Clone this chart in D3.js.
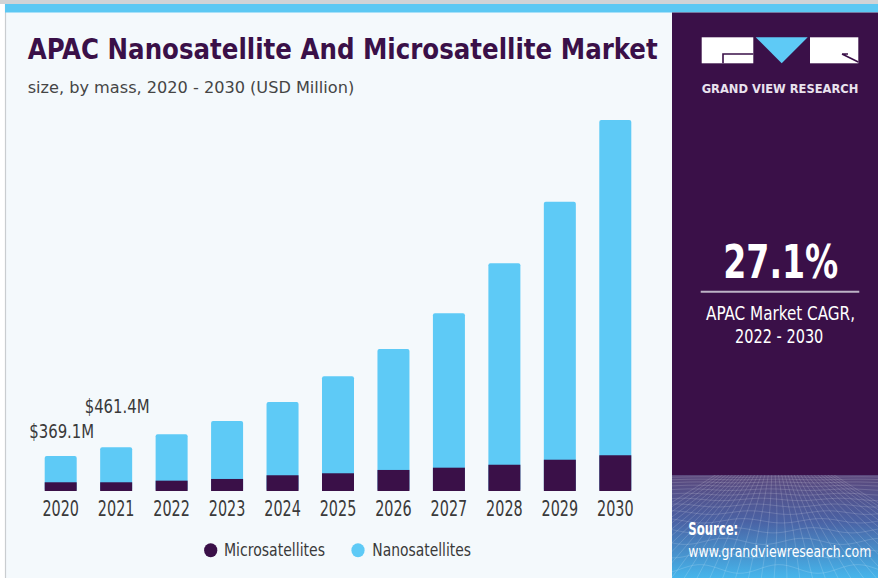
<!DOCTYPE html>
<html><head><meta charset="utf-8">
<script src="https://cdn.jsdelivr.net/npm/d3@7"></script>
<style>body{margin:0;background:#fff}svg{display:block}</style>
</head><body>
<svg id="chart" width="878" height="578"></svg>
<script>
// ---- data ----
const years = ["2020","2021","2022","2023","2024","2025","2026","2027","2028","2029","2030"];
const microsatellites = [92, 92, 109, 127, 166, 187, 222, 246, 277, 330, 377];
const nanosatellites  = [277.1, 369.4, 489, 612, 773, 1023, 1276, 1629, 2125, 2722, 3537];
const seriesNames = ["Microsatellites", "Nanosatellites"];
const labeledYears = ["2020", "2021"];
const titleText = "APAC Nanosatellite And Microsatellite Market";
const subtitleText = "size, by mass, 2020 - 2030 (USD Million)";
const cagrValue = "27.1%";
const cagrLines = ["APAC Market CAGR,", "2022 - 2030"];

// ---- style ----
const PURPLE = "#3a1048";
const CYAN = "#5ecaf6";
const TEXT = "#3a3a3a";
const NARROW = "'Liberation Sans Narrow','Arial Narrow','DejaVu Sans Condensed',sans-serif";

const svg = d3.select("#chart");

// backgrounds
svg.append("rect").attr("x",0).attr("y",0).attr("width",878).attr("height",578).attr("fill","#ffffff");
svg.append("rect").attr("x",6).attr("y",4).attr("width",666).attr("height",574).attr("fill","#f4f9fc");
svg.append("line").attr("x1",5.5).attr("x2",5.5).attr("y1",4).attr("y2",578).attr("stroke","#c9cdd0").attr("stroke-width",1.2);
svg.append("rect").attr("x",0).attr("y",0).attr("width",878).attr("height",4).attr("fill","#d0d3d6");
svg.append("rect").attr("x",5).attr("y",4).attr("width",873).attr("height",8.5).attr("fill","#5cc8f3");

// right panel
svg.append("rect").attr("x",672).attr("y",12.5).attr("width",206).attr("height",566).attr("fill",PURPLE);

const defs = svg.append("defs");
const grad = defs.append("linearGradient").attr("id","meshGrad").attr("x1",0).attr("y1",0).attr("x2",0).attr("y2",1);
grad.append("stop").attr("offset","0%").attr("stop-color","#5a477b");
grad.append("stop").attr("offset","45%").attr("stop-color","#4a62a4");
grad.append("stop").attr("offset","100%").attr("stop-color","#46b6ec");
svg.append("rect").attr("x",672).attr("y",475).attr("width",206).attr("height",103).attr("fill","url(#meshGrad)");
defs.append("clipPath").attr("id","meshClip").append("rect").attr("x",672).attr("y",475).attr("width",206).attr("height",103);
const mesh = svg.append("g").attr("clip-path","url(#meshClip)")
  .attr("stroke","#ffffff").attr("stroke-opacity",0.22).attr("stroke-width",0.7).attr("fill","none");
// perspective-like grid (decorative)
let gy = 477, gstep = 2.5;
while (gy < 580) {
  const yy = gy;
  mesh.append("path").attr("d", d3.line().curve(d3.curveBasis)(
    d3.range(668, 890, 10).map((x,i) => [x, yy + Math.sin(i*0.8 + yy*0.07) * (yy-472)*0.05])));
  gy += gstep; gstep *= 1.16;
}
for (let bx = 540; bx <= 1010; bx += 13) {
  mesh.append("path").attr("d", d3.line().curve(d3.curveBasis)(
    [[775 + (bx-775)*0.22, 470],[775 + (bx-775)*0.55 + Math.sin(bx)*4, 520],[bx, 580]]));
}

// logo
const logo = svg.append("g");
logo.append("rect").attr("x",701.7).attr("y",37.3).attr("width",51.6).attr("height",26).attr("fill","#ffffff");
logo.append("path").attr("d","M723,63.3 V54 H753.3").attr("stroke",PURPLE).attr("stroke-width",1.6).attr("fill","none");
logo.append("path").attr("d","M755.7,37.3 L807.7,37.3 L781.7,63.3 Z").attr("fill",CYAN);
logo.append("rect").attr("x",810).attr("y",37.3).attr("width",48.3).attr("height",26).attr("fill","#ffffff");
logo.append("path").attr("d","M842,54 H848 M842,54 L858.3,62").attr("stroke",PURPLE).attr("stroke-width",1.6).attr("fill","none");
svg.append("text").attr("x",701.7).attr("y",93.3).attr("font-family","'DejaVu Sans Condensed','DejaVu Sans',sans-serif").attr("font-weight","bold")
  .attr("font-size",12).attr("fill","#e9e2ee").attr("textLength",156.6).attr("lengthAdjust","spacingAndGlyphs")
  .text("GRAND VIEW RESEARCH");

// CAGR
svg.append("text").attr("x",780.8).attr("y",278.3).attr("text-anchor","middle").attr("font-family",NARROW)
  .attr("font-weight","bold").attr("font-size",46).attr("fill","#ffffff")
  .attr("textLength",115).attr("lengthAdjust","spacingAndGlyphs").text(cagrValue);
svg.append("line").attr("x1",700.7).attr("x2",859.3).attr("y1",291.7).attr("y2",291.7).attr("stroke","#bdb3c6").attr("stroke-width",2);
svg.append("text").attr("x",780.5).attr("y",320).attr("text-anchor","middle").attr("font-family",NARROW)
  .attr("font-size",19).attr("fill","#ffffff").attr("textLength",149).attr("lengthAdjust","spacingAndGlyphs").text(cagrLines[0]);
svg.append("text").attr("x",779.2).attr("y",343.3).attr("text-anchor","middle").attr("font-family",NARROW)
  .attr("font-size",19).attr("fill","#ffffff").attr("textLength",88.3).attr("lengthAdjust","spacingAndGlyphs").text(cagrLines[1]);

// source
svg.append("text").attr("x",688.3).attr("y",535).attr("font-family",NARROW).attr("font-weight","bold")
  .attr("font-size",17).attr("fill","#ffffff").attr("textLength",50).attr("lengthAdjust","spacingAndGlyphs").text("Source:");
svg.append("text").attr("transform","translate(688.3,557.3) scale(1,1.2)").attr("font-family",NARROW)
  .attr("font-size",13.2).attr("fill","#ffffff").attr("textLength",183).attr("lengthAdjust","spacingAndGlyphs").text("www.grandviewresearch.com");

// titles
svg.append("text").attr("x",27.7).attr("y",59.3).attr("font-family",NARROW).attr("font-weight","bold")
  .attr("font-size",29).attr("fill",PURPLE).attr("textLength",630).attr("lengthAdjust","spacingAndGlyphs").text(titleText);
svg.append("text").attr("x",27.7).attr("y",93).attr("font-family",NARROW)
  .attr("font-size",16).attr("fill","#454545").attr("textLength",326.5).attr("lengthAdjust","spacingAndGlyphs").text(subtitleText);

// ---- scales ----
const x = d3.scaleBand().domain(years).range([44.7, 631.3]).paddingInner(0.423).paddingOuter(0);
const y = d3.scaleLinear().domain([0, 4000]).range([491, 491 - 4000/10.55]);

const rows = years.map((yr,i) => ({year: yr, micro: microsatellites[i], nano: nanosatellites[i], total: microsatellites[i] + nanosatellites[i]}));

const bars = svg.append("g");
bars.selectAll("rect.nano").data(rows).join("rect").attr("class","nano")
  .attr("x", d => x(d.year)).attr("width", x.bandwidth())
  .attr("y", d => y(d.total)).attr("height", d => y(0) - y(d.total))
  .attr("rx", 2).attr("fill", CYAN);
bars.selectAll("rect.micro").data(rows).join("rect").attr("class","micro")
  .attr("x", d => x(d.year)).attr("width", x.bandwidth())
  .attr("y", d => y(d.micro)).attr("height", d => y(0) - y(d.micro))
  .attr("fill", PURPLE);

// x axis labels
const xAxis = d3.axisBottom(x).tickSize(0).tickPadding(0);
const ax = svg.append("g").attr("transform","translate(0,491)").call(xAxis);
ax.select(".domain").remove();
ax.selectAll("text").attr("font-family",NARROW).attr("font-size",20.5).attr("fill",TEXT)
  .attr("dy",null).attr("y",25.2)
  .attr("textLength",36.6).attr("lengthAdjust","spacingAndGlyphs");

// value labels
const labelOffsets = [18, 34];
svg.append("g").selectAll("text").data(rows.filter(d => labeledYears.includes(d.year))).join("text")
  .attr("x", d => x(d.year) + x.bandwidth()/2 + 1)
  .attr("y", (d,i) => y(d.total) - labelOffsets[i])
  .attr("text-anchor","middle").attr("font-family",NARROW).attr("font-size",19).attr("fill",TEXT)
  .attr("textLength",65).attr("lengthAdjust","spacingAndGlyphs")
  .text(d => "$" + d.total.toFixed(1) + "M");

// legend
const legendItems = [
  {name: seriesNames[0], color: PURPLE, cx: 210.7, tx: 224, w: 101},
  {name: seriesNames[1], color: CYAN, cx: 358, tx: 372.3, w: 98.7}
];
const lg = svg.append("g");
lg.selectAll("ellipse").data(legendItems).join("ellipse")
  .attr("cx", d => d.cx).attr("cy", 550.3).attr("rx", 6.6).attr("ry", 7).attr("fill", d => d.color);
lg.selectAll("text").data(legendItems).join("text")
  .attr("x", d => d.tx).attr("y", 555.5).attr("font-family",NARROW).attr("font-size",18).attr("fill",TEXT)
  .attr("textLength", d => d.w).attr("lengthAdjust","spacingAndGlyphs").text(d => d.name);
</script>
</body></html>
